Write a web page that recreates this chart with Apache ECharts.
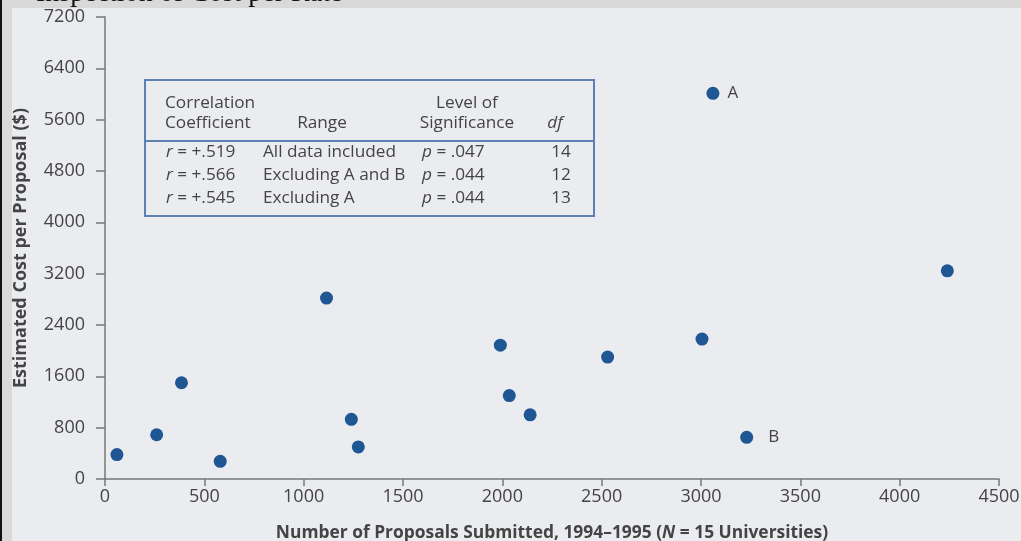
<!DOCTYPE html>
<html>
<head>
<meta charset="utf-8">
<script src="https://cdn.jsdelivr.net/npm/echarts@6/dist/echarts.min.js"></script>
<style>
  html, body { margin: 0; padding: 0; background: #d9d9d9; }
  #chart { width: 1021px; height: 541px; }
</style>
</head>
<body>
<div id="chart"></div>
<script>
// ---- data ----
const proposals = [60, 260, 385, 580, 1115, 1240, 1275, 1990, 2035, 2140, 2530, 3005, 3060, 3230, 4240];
const costPerProposal = [380, 690, 1500, 275, 2820, 930, 500, 2085, 1300, 1000, 1900, 2180, 6010, 650, 3245];
const pointNames = ['', '', '', '', '', '', '', '', '', '', '', '', 'A', 'B', ''];
const xTicks = [0, 500, 1000, 1500, 2000, 2500, 3000, 3500, 4000, 4500];
const yTicks = [0, 800, 1600, 2400, 3200, 4000, 4800, 5600, 6400, 7200];

const headerLine1 = ['Correlation', '', 'Level of', ''];
const headerLine2 = ['Coefficient', 'Range', 'Significance', 'df'];
const rValues = ['+.519', '+.566', '+.545'];
const ranges = ['All data included', 'Excluding A and B', 'Excluding A'];
const pValues = ['.047', '.044', '.044'];
const dfValues = ['14', '12', '13'];

const xAxisTitle = 'Number of Proposals Submitted, 1994\u20131995 (';
const xAxisTitleItalic = 'N';
const xAxisTitleEnd = ' = 15 Universities)';
const yAxisTitle = 'Estimated Cost per Proposal ($)';
const topFragment = 'Inspection of Cost per Rate';

// ---- chart ----
const FONT = 'Open Sans';
const TXT = '#444';
const TS = 17.2; // table font size
const chart = echarts.init(document.getElementById('chart'));

const seriesData = proposals.map((x, i) => {
  const item = { value: [x, costPerProposal[i]] };
  if (pointNames[i]) {
    item.label = {
      show: true, formatter: pointNames[i], position: 'right',
      distance: pointNames[i] === 'B' ? 15 : 8,
      color: TXT, fontFamily: FONT, fontSize: 17
    };
  }
  return item;
});

const richIt = {
  i: { fontStyle: 'italic', fontFamily: FONT, fontSize: TS, fill: TXT, color: TXT }
};

const graphics = [
  { type: 'rect', left: 12, top: 8, shape: { width: 1009, height: 533 }, style: { fill: '#ebecf0' }, z: -10, silent: true },
  { type: 'rect', left: 0, top: 0, shape: { width: 2, height: 541 }, style: { fill: '#111' }, z: -9 },
  { type: 'text', left: 36, top: -20, style: { text: topFragment, font: '28px "Liberation Serif"', fill: '#111' }, z: 10 },
  { type: 'rect', shape: { x: 145, y: 80, width: 449, height: 136 }, style: { fill: 'none', stroke: '#5d80b2', lineWidth: 2 }, z: 5 },
  { type: 'line', shape: { x1: 145, y1: 141, x2: 594, y2: 141 }, style: { stroke: '#5d80b2', lineWidth: 2 }, z: 5 }
];

const colX = [165, 322, 467, 555];
const colAlign = ['left', 'center', 'center', 'center'];
headerLine1.forEach((t, c) => {
  if (!t) return;
  graphics.push({ type: 'text', x: colX[c], y: 103, style: { text: t, fontFamily: FONT, fontSize: TS, fill: TXT, align: colAlign[c], verticalAlign: 'middle' }, z: 6 });
});
headerLine2.forEach((t, c) => {
  graphics.push({ type: 'text', x: colX[c], y: 123, style: { text: t, fontFamily: FONT, fontSize: TS, fontStyle: c === 3 ? 'italic' : 'normal', fill: TXT, align: colAlign[c], verticalAlign: 'middle' }, z: 6 });
});
const rowY = [152, 175.5, 198.5];
rValues.forEach((r, k) => {
  const y = rowY[k];
  graphics.push({ type: 'text', x: 166, y: y, style: { text: '{i|r} = ' + r, rich: richIt, fontFamily: FONT, fontSize: TS, fill: TXT, align: 'left', verticalAlign: 'middle' }, z: 6 });
  graphics.push({ type: 'text', x: 263, y: y, style: { text: ranges[k], fontFamily: FONT, fontSize: TS, fill: TXT, align: 'left', verticalAlign: 'middle' }, z: 6 });
  graphics.push({ type: 'text', x: 422, y: y, style: { text: '{i|p} = ' + pValues[k], rich: richIt, fontFamily: FONT, fontSize: TS, fill: TXT, align: 'left', verticalAlign: 'middle' }, z: 6 });
  graphics.push({ type: 'text', x: 561, y: y, style: { text: dfValues[k], fontFamily: FONT, fontSize: TS, fill: TXT, align: 'center', verticalAlign: 'middle' }, z: 6 });
});

chart.setOption({
  backgroundColor: '#d9d9d9',
  animation: false,
  grid: { left: 105, right: 22, top: 17, bottom: 62, containLabel: false, outerBoundsMode: 'none' },
  xAxis: {
    type: 'value', min: xTicks[0], max: xTicks[xTicks.length - 1], interval: 500,
    name: '{b|' + xAxisTitle + '}{bi|' + xAxisTitleItalic + '}{b|' + xAxisTitleEnd + '}',
    nameLocation: 'middle', nameGap: 46,
    nameTextStyle: {
      rich: {
        b: { fontFamily: FONT, fontWeight: 'bold', fontSize: 17.4, color: TXT },
        bi: { fontFamily: FONT, fontWeight: 'bold', fontStyle: 'italic', fontSize: 17.4, color: TXT }
      }
    },
    axisLine: { show: true, lineStyle: { color: '#777', width: 1.5 } },
    axisTick: { show: true, inside: false, length: 7, lineStyle: { color: '#777', width: 1.5 } },
    axisLabel: { margin: 9, color: TXT, fontFamily: FONT, fontSize: 18, formatter: v => String(v) },
    splitLine: { show: false }
  },
  yAxis: {
    type: 'value', min: yTicks[0], max: yTicks[yTicks.length - 1], interval: 800,
    name: yAxisTitle, nameLocation: 'middle', nameGap: 75,
    nameTextStyle: { fontFamily: FONT, fontWeight: 'bold', fontSize: 18, color: TXT },
    axisLine: { show: true, lineStyle: { color: '#777', width: 1.5 } },
    axisTick: { show: true, inside: false, length: 9, lineStyle: { color: '#777', width: 1.5 } },
    axisLabel: { margin: 20, color: TXT, fontFamily: FONT, fontSize: 18, formatter: v => String(v) },
    splitLine: { show: false }
  },
  series: [{
    type: 'scatter',
    symbol: 'circle',
    symbolSize: 13,
    itemStyle: { color: '#1f5694', opacity: 1 },
    data: seriesData,
    z: 4
  }],
  graphic: graphics
});
</script>
</body>
</html>
